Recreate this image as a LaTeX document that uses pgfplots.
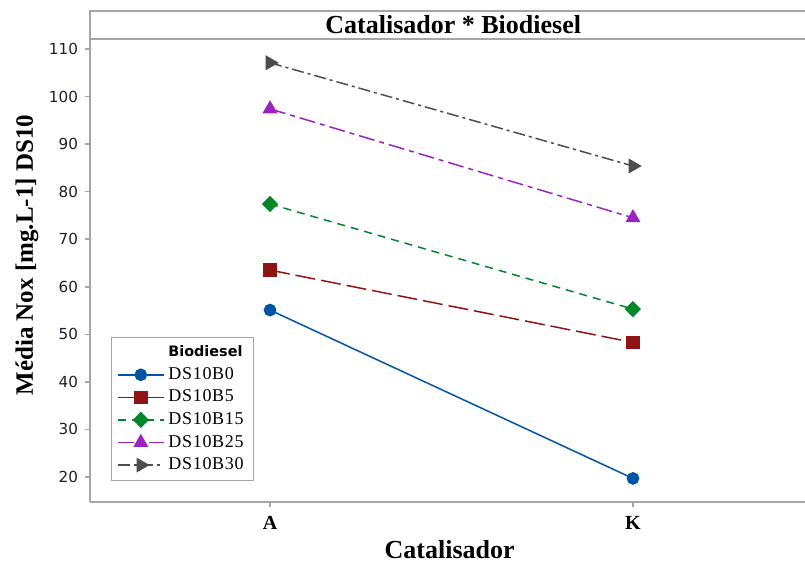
\documentclass[border=0pt]{standalone}
\usepackage{pgfplots}
\pgfplotsset{compat=1.18}
\usepackage{fontspec}
\setmainfont{Liberation Serif}
\newfontfamily\tickfont{DejaVu Sans}
\usetikzlibrary{calc}

\definecolor{framegray}{RGB}{165,165,165}
\definecolor{cB0}{RGB}{0,84,166}
\definecolor{cB5}{RGB}{145,20,20}
\definecolor{cB15}{RGB}{0,135,40}
\definecolor{cB25}{RGB}{155,35,195}
\definecolor{cB30}{RGB}{77,77,77}
\definecolor{ticktext}{RGB}{30,30,45}

\begin{document}
\begin{tikzpicture}
\begin{axis}[
  scale only axis,
  width=357.5pt, height=231.5pt,
  xmin=0.504, xmax=2.474,
  ymin=14.74, ymax=112.1,
  clip=false,
  axis x line*=bottom, axis y line*=left,
  axis line style={framegray, line width=1pt, -},
  tick style={framegray, line width=0.8pt},
  tick align=outside,
  major tick length=2.5pt,
  xtick={1,2}, xticklabels={A,K},
  xticklabel style={font=\bfseries\fontsize{10}{12}\selectfont, yshift=-1pt},
  ytick={20,30,...,110},
  yticklabel style={font=\tickfont\fontsize{7.6}{9}\selectfont, text=ticktext},
  /pgf/number format/assume math mode=true,
  xlabel={Catalisador},
  xlabel style={font=\bfseries\fontsize{13}{15}\selectfont, at={(axis description cs:0.503,0)}, anchor=center, yshift=-24pt},
  ylabel={Média Nox [mg.L-1] DS10},
  ylabel style={font=\bfseries\fontsize{12.5}{15}\selectfont, at={(axis description cs:0,0.533)}, anchor=center, yshift=31.5pt},
  legend style={at={(axis description cs:0.029,0.045)}, anchor=south west,
    draw=framegray, line width=0.6pt, fill=white,
    font=\addfontfeatures{LetterSpace=4}\fontsize{9}{10}\selectfont, row sep=-0.2pt,
    inner xsep=3pt, inner ysep=2pt, cells={anchor=west}},
  legend image code/.code={\draw[mark repeat=2,mark phase=2] plot coordinates {(0cm,0cm)(0.4cm,0cm)(0.8cm,0cm)};},
]
\addlegendimage{empty legend}
\addlegendentry{{\tickfont\bfseries\fontsize{7.2}{8}\selectfont Biodiesel}}

\addplot[cB0, line width=0.75pt, mark=*, mark size=2.8pt, mark options={solid}]
  coordinates {(1,55.1) (2,19.7)};
\addlegendentry{DS10B0}

\addplot[cB5, line width=0.75pt, dash pattern=on 10pt off 3pt, mark=square*, mark size=3pt, mark options={solid}]
  coordinates {(1,63.5) (2,48.3)};
\addlegendentry{DS10B5}

\addplot[cB15, line width=0.75pt, dash pattern=on 4pt off 3pt, mark=square*, mark size=2.5pt, mark options={solid, rotate=45}]
  coordinates {(1,77.4) (2,55.3)};
\addlegendentry{DS10B15}

\addplot[cB25, line width=0.75pt, dash pattern=on 8pt off 2.5pt on 2.5pt off 2.5pt, mark=triangle*, mark size=3.6pt, mark options={solid}]
  coordinates {(1,97.4) (2,74.5)};
\addlegendentry{DS10B25}

\addplot[cB30, line width=0.75pt, dash pattern=on 6pt off 2pt on 1.5pt off 2pt, mark=triangle*, mark size=3.6pt, mark options={solid, rotate=-90}]
  coordinates {(1,107.1) (2,85.4)};
\addlegendentry{DS10B30}

\draw[framegray, line width=1pt] (rel axis cs:0,1) -- (rel axis cs:1,1);
\end{axis}
\draw[framegray, line width=1pt] (current axis.north west) -- ++(0,14pt) -- ($(current axis.north east)+(0,14pt)$);
\node[font=\bfseries\fontsize{13}{15}\selectfont] at ($(current axis.north west)!0.508!(current axis.north east)+(0,7pt)$) {Catalisador * Biodiesel};
\pgfresetboundingbox
\path[use as bounding box] ($(current axis.south west)+(-45pt,-30.5pt)$) rectangle ($(current axis.north east)+(0,19.5pt)$);
\end{tikzpicture}
\end{document}
